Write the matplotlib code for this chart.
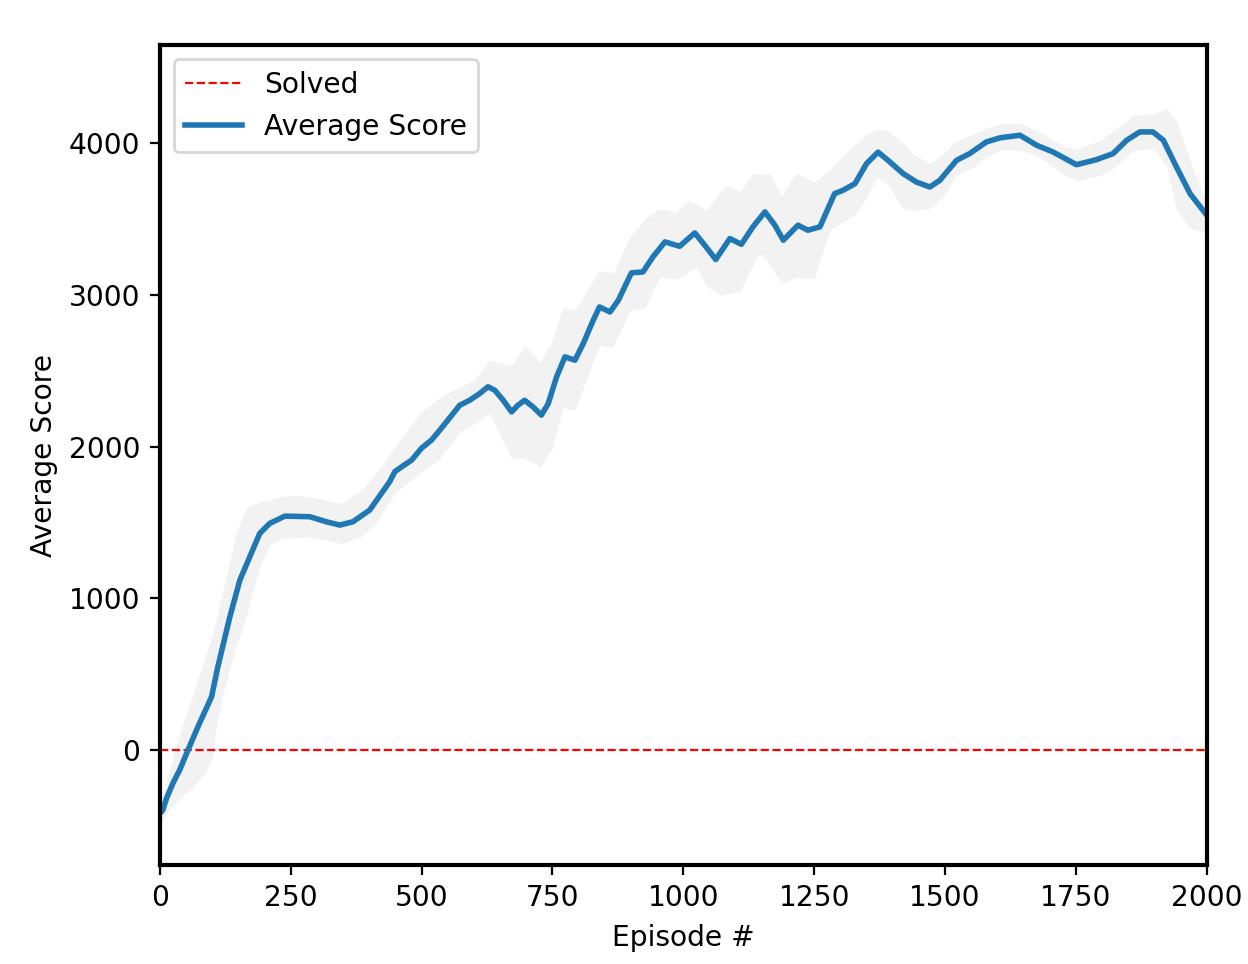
import numpy as np
import matplotlib
matplotlib.use("Agg")
import matplotlib.pyplot as plt

# Mean curve (episode, average score)
episodes = [0, 6, 13, 25, 38, 54, 73, 99, 111, 134, 153, 172, 191, 210, 239, 265, 287, 318, 344, 369,
            401, 439, 449, 462, 481, 500, 519, 535, 573, 592, 611, 627, 640, 656, 672, 684, 697, 713,
            729, 742, 758, 774, 793, 809, 828, 840, 860, 876, 885, 901, 923, 942, 965, 993, 1022,
            1041, 1062, 1089, 1111, 1133, 1156, 1175, 1191, 1219, 1238, 1261, 1289, 1305, 1328,
            1350, 1372, 1391, 1420, 1445, 1471, 1490, 1522, 1547, 1579, 1605, 1643, 1675, 1706, 1751,
            1789, 1821, 1847, 1872, 1897, 1917, 1942, 1968, 2000]
avg_score = [-420, -395, -318, -220, -132, 0, 154, 351, 549, 879, 1120, 1274, 1428, 1494, 1542, 1540,
             1538, 1505, 1483, 1505, 1582, 1768, 1835, 1867, 1911, 1990, 2043, 2109, 2273, 2306, 2350,
             2395, 2372, 2306, 2229, 2273, 2306, 2262, 2208, 2284, 2460, 2592, 2570, 2680, 2834, 2921,
             2888, 2965, 3031, 3146, 3152, 3251, 3350, 3321, 3409, 3328, 3234, 3372, 3334, 3449, 3548,
             3460, 3361, 3460, 3427, 3449, 3668, 3690, 3734, 3866, 3942, 3888, 3800, 3745, 3712, 3756,
             3888, 3932, 4009, 4036, 4053, 3987, 3943, 3859, 3892, 3932, 4020, 4075, 4075, 4020, 3844,
             3668, 3526]

# Shaded spread band
band_episodes = [0, 19, 38, 64, 89, 100, 108, 121, 146, 166, 191, 210, 232, 260, 290, 322, 347, 385,
                 417, 449, 500, 535, 573, 600, 630, 672, 697, 726, 750, 770, 793, 840, 866, 898, 926,
                 955, 987, 1009, 1025, 1044, 1070, 1083, 1108, 1133, 1146, 1165, 1188, 1210, 1219,
                 1250, 1280, 1299, 1331, 1350, 1370, 1390, 1420, 1439, 1471, 1496, 1522, 1554, 1579,
                 1605, 1643, 1675, 1730, 1755, 1796, 1821, 1859, 1898, 1923, 1942, 1968, 1992, 2000]
band_high = [-360, -132, 110, 374, 637, 760, 857, 1060, 1428, 1603, 1636, 1650, 1672, 1680, 1667, 1645,
             1626, 1713, 1840, 1999, 2230, 2326, 2394, 2438, 2570, 2537, 2669, 2557, 2700, 2919, 2900,
             3163, 3143, 3383, 3500, 3569, 3548, 3624, 3600, 3558, 3680, 3723, 3679, 3800, 3800, 3800,
             3657, 3778, 3800, 3745, 3830, 3900, 3998, 4060, 4090, 4085, 4000, 3932, 3866, 3930, 4020,
             4060, 4100, 4129, 4129, 4086, 3976, 3965, 4020, 4080, 4185, 4196, 4229, 4152, 3888, 3668,
             3620]
band_low = [-500, -390, -320, -242, -140, -60, 160, 374, 681, 890, 1208, 1351, 1395, 1400, 1402, 1380,
            1362, 1406, 1516, 1692, 1834, 1924, 2096, 2150, 2221, 1924, 1924, 1865, 1990, 2254, 2240,
            2669, 2656, 2900, 2913, 3119, 3105, 3150, 3185, 3060, 2998, 3010, 3020, 3200, 3273, 3200,
            3075, 3110, 3119, 3108, 3427, 3471, 3537, 3650, 3778, 3734, 3569, 3558, 3569, 3646, 3789,
            3844, 3910, 3954, 3954, 3921, 3785, 3756, 3789, 3833, 3954, 3965, 3850, 3560, 3440, 3416,
            3410]

solved_score = 0
x_ticks = [0, 250, 500, 750, 1000, 1250, 1500, 1750, 2000]
y_ticks = [0, 1000, 2000, 3000, 4000]

plt.rcParams["font.size"] = 10.15

fig = plt.figure(figsize=(6.24, 4.82), dpi=200)
ax = fig.add_axes([0.128, 0.1027, 0.839, 0.8503])

ax.axhline(solved_score, color="red", linestyle="--", linewidth=0.8, label="Solved")
ax.plot(episodes, avg_score, color="#1f77b4", linewidth=2.0, label="Average Score")
ax.fill_between(band_episodes, band_low, band_high, color="gray", alpha=0.1, linewidth=0)

ax.set_xlim(0, 2000)
ax.set_ylim(-758, 4646)
ax.set_xticks(x_ticks)
ax.set_yticks(y_ticks)
ax.set_xlabel("Episode #")
ax.set_ylabel("Average Score")
for s in ax.spines.values():
    s.set_linewidth(1.5)
ax.legend(loc="upper left")

fig.savefig("out.png", dpi=200)
